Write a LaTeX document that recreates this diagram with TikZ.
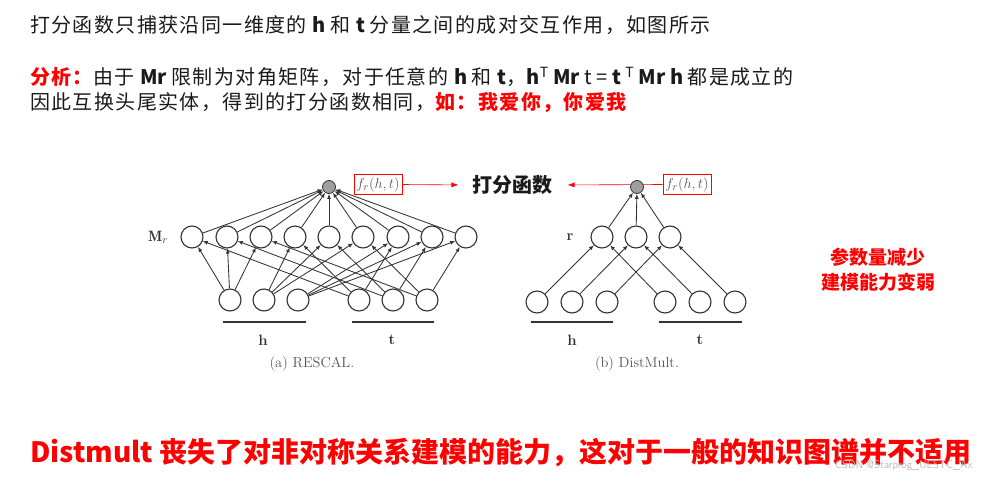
\documentclass[tikz,border=0pt]{standalone}
\usepackage{fontspec}
\newfontfamily\cjk{Noto Sans CJK SC}
\newfontfamily\cjkwide[LetterSpace=7]{Noto Sans CJK SC}
\usetikzlibrary{arrows.meta}
\definecolor{ink}{HTML}{1A1A1A}
\definecolor{alert}{HTML}{FF0000}
\definecolor{net}{HTML}{333333}
\definecolor{capgray}{HTML}{555555}
\pgfdeclarelayer{bg}
\pgfsetlayers{bg,main}
% tight Latin runs inside the tracked CJK prose
\newcommand{\tight}[1]{{\cjk #1}}
\begin{document}
\begin{tikzpicture}[x=1pt,y=-1pt,
  prose/.style={anchor=west,inner sep=0pt,font=\cjkwide\fontsize{20}{24}\selectfont,text=ink},
  unit/.style={circle,draw=net,line width=1.1pt,fill=white,minimum size=22pt,inner sep=0pt},
  outnode/.style={circle,draw=net,line width=0.8pt,fill=gray!75,minimum size=13pt,inner sep=0pt},
  link/.style={draw=net,line width=0.85pt,-{Latex[length=5pt,width=4pt]}},
  scorebox/.style={draw=alert,line width=0.8pt,inner sep=2.5pt,text=capgray,font=\fontsize{15}{18}\selectfont},
  pointer/.style={draw=alert,line width=0.6pt,-{Latex[length=7pt,width=5pt]}},
  axislabel/.style={font=\fontsize{15}{18}\selectfont\bfseries,text=net},
  bar/.style={draw=net,line width=2pt},
  caption/.style={font=\fontsize{14.5}{17}\selectfont,text=capgray},
  ]
\useasboundingbox (0,0) rectangle (990,490);

% ---- explanatory text ----
\node[prose] (intro) at (30,25) {打分函数只捕获沿同一维度的\tight{ \textbf{h} }和\tight{ \textbf{t} }分量之间的成对交互作用，如图所示};
\node[prose] (analysis) at (30,77) {\textcolor{alert}{\bfseries 分析：}由于\tight{ \textbf{Mr} }限制为对角矩阵，对于任意的\tight{ \textbf{h} }和\tight{ \textbf{t}，\textbf{h}\textsuperscript{T} \textbf{Mr} t = \textbf{t} \textsuperscript{T} \textbf{Mr} \textbf{h} }都是成立的};
\node[prose] (swap) at (30,103) {因此互换头尾实体，得到的打分函数相同，\textcolor{alert}{\bfseries 如：我爱你，你爱我}};

% ---- RESCAL network ----
\node[outnode] (fa) at (329,187) {};
\foreach \k/\x in {1/192,2/227,3/261,4/295,5/329,6/363,7/398,8/432,9/466}
  \node[unit] (m\k) at (\x,237) {};
\foreach \k/\x in {1/230,2/264,3/298}
  \node[unit] (ha\k) at (\x,300) {};
\foreach \k/\x in {1/359,2/393,3/427}
  \node[unit] (ta\k) at (\x,300) {};
\foreach \i in {1,2,3}
  \foreach \j in {1,2,3} {
    \pgfmathtruncatemacro{\cell}{3*(\i-1)+\j}
    \draw[link] (ha\i) -- (m\cell);
    \draw[link] (ta\j) -- (m\cell);
  }
\foreach \k in {1,...,9}
  \draw[link] (m\k) -- (fa);
\node[axislabel] (mrlabel) at (158,237) {$\mathbf{M}_{r}$};
\draw[bar] (223,322) -- (306,322);
\draw[bar] (352,322) -- (434,322);
\node[axislabel] (hlabA) at (263,340) {h};
\node[axislabel] (tlabA) at (392,340) {t};
\node[caption] (capA) at (312,364) {(a) RESCAL.};

% ---- DistMult network ----
\node[outnode] (fb) at (637,187) {};
\foreach \k/\x in {1/602,2/636,3/670}
  \node[unit] (r\k) at (\x,237) {};
\foreach \k/\x in {1/537,2/572,3/607}
  \node[unit] (hb\k) at (\x,302) {};
\foreach \k/\x in {1/665,2/700,3/735}
  \node[unit] (tb\k) at (\x,302) {};
\foreach \k in {1,2,3} {
  \draw[link] (hb\k) -- (r\k);
  \draw[link] (tb\k) -- (r\k);
  \draw[link] (r\k) -- (fb);
}
\node[axislabel] (rlabel) at (570,237) {r};
\draw[bar] (531,322) -- (613,322);
\draw[bar] (659,322) -- (742,322);
\node[axislabel] (hlabB) at (572,340) {h};
\node[axislabel] (tlabB) at (700,340) {t};
\node[caption] (capB) at (637,364) {(b) DistMult.};

% ---- score function labels ----
\node[scorebox] (sa) at (378,184.5) {$f_r(h,t)$};
\node[scorebox] (sb) at (687,184.5) {$f_r(h,t)$};
\node[font=\cjk\bfseries\fontsize{20}{24}\selectfont,text=ink] (score) at (512,185) {打分函数};
\draw[pointer,shorten >=10pt] (sa.east) -- (score.west);
\begin{pgfonlayer}{bg}
\draw[pointer,shorten >=12pt] (sb.west) -- (score.east);
\end{pgfonlayer}

% ---- remarks ----
\node[font=\cjk\bfseries\fontsize{19}{25}\selectfont,text=alert,align=center] (weaker) at (878,270) {参数量减少\\建模能力变弱};
\node[prose,font=\cjk\bfseries\fontsize{28}{32}\selectfont,text=alert] (verdict) at (30,453) {Distmult 丧失了对非对称关系建模的能力，这对于一般的知识图谱并不适用};
\node[anchor=east,font=\sffamily\fontsize{11}{13}\selectfont,text=gray!55] (mark) at (976,466) {CSDN @Starprog\_UESTC\_Ax};
\end{tikzpicture}
\end{document}
